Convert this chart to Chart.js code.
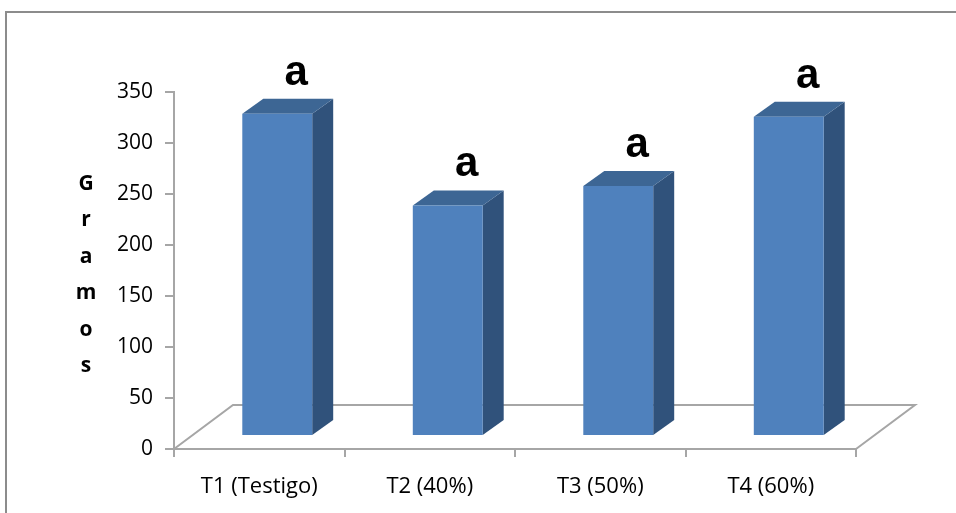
<!DOCTYPE html>
<html>
<head>
<meta charset="utf-8">
<script src="https://cdn.jsdelivr.net/npm/chart.js@4.4.1/dist/chart.umd.min.js"></script>
<style>
  html, body { margin: 0; padding: 0; background: #ffffff; }
  #wrap { width: 956px; height: 513px; }
</style>
</head>
<body>
<div id="wrap"><canvas id="c" width="956" height="513"></canvas></div>
<script>
// Treatments and mean weight (g)
const categories = ['T1 (Testigo)', 'T2 (40%)', 'T3 (50%)', 'T4 (60%)'];
const grams = [316, 226, 245, 313];
const letters = ['a', 'a', 'a', 'a'];
const axisTitle = 'Gramos';
const yMin = 0, yMax = 350, yStep = 50;

// Oblique projection used for the 3-D look
const BAR_SHIFT = { x: 18, y: -13 };   // bars sit a bit behind the front edge of the floor
const BAR_DEPTH = { x: 21, y: -15 };   // thickness of each column
const FLOOR_DEPTH = { x: 59, y: -44 }; // full depth of the floor
const FRONT = '#4F81BD', SIDE = '#30527B', TOP = '#3D6694';
const LINE = '#A6A6A6';
const TEXT_FONT = '"Open Sans", "Noto Sans", sans-serif';

const frame = {
  id: 'frame',
  beforeDraw(chart) {
    const ctx = chart.ctx;
    ctx.save();
    ctx.fillStyle = '#fff';
    ctx.fillRect(0, 0, chart.width, chart.height);
    ctx.strokeStyle = '#8C8C8C';
    ctx.lineWidth = 2;
    ctx.strokeRect(6, 12, chart.width + 20, chart.height + 20);
    ctx.restore();
  }
};

const floor3d = {
  id: 'floor3d',
  beforeDatasetsDraw(chart) {
    const { ctx, chartArea: a } = chart;
    const dx = FLOOR_DEPTH.x, dy = FLOOR_DEPTH.y;
    ctx.save();
    ctx.strokeStyle = LINE;
    ctx.lineWidth = 2;
    ctx.beginPath();
    ctx.moveTo(a.left, a.bottom);
    ctx.lineTo(a.left + dx, a.bottom + dy);
    ctx.lineTo(a.right + dx, a.bottom + dy);
    ctx.lineTo(a.right, a.bottom);
    ctx.stroke();
    ctx.restore();
  },
  beforeDatasetDraw(chart, args) {
    const ctx = chart.ctx;
    ctx.save();
    ctx.translate(BAR_SHIFT.x, BAR_SHIFT.y);
    const meta = args.meta;
    meta.data.forEach(el => {
      const p = el.getProps(['x', 'y', 'base', 'width'], true);
      const l = p.x - p.width / 2, r = p.x + p.width / 2;
      const dx = BAR_DEPTH.x, dy = BAR_DEPTH.y;
      // side face
      ctx.fillStyle = SIDE;
      ctx.beginPath();
      ctx.moveTo(r, p.y);
      ctx.lineTo(r + dx, p.y + dy);
      ctx.lineTo(r + dx, p.base + dy);
      ctx.lineTo(r, p.base);
      ctx.closePath();
      ctx.fill();
      // top face
      ctx.fillStyle = TOP;
      ctx.beginPath();
      ctx.moveTo(l, p.y);
      ctx.lineTo(l + dx, p.y + dy);
      ctx.lineTo(r + dx, p.y + dy);
      ctx.lineTo(r, p.y);
      ctx.closePath();
      ctx.fill();
    });
  },
  afterDatasetDraw(chart) {
    chart.ctx.restore();
  },
  afterDatasetsDraw(chart) {
    const ctx = chart.ctx;
    const meta = chart.getDatasetMeta(0);
    ctx.save();
    ctx.fillStyle = '#000';
    ctx.font = 'bold 42px "Liberation Sans", Arial, sans-serif';
    ctx.textAlign = 'center';
    ctx.textBaseline = 'alphabetic';
    meta.data.forEach((el, i) => {
      const p = el.getProps(['x', 'y'], true);
      ctx.fillText(letters[i], p.x + BAR_SHIFT.x + 19, p.y + BAR_SHIFT.y + BAR_DEPTH.y - 14);
    });
    // vertical axis title, one letter per line
    ctx.font = 'bold 21px ' + TEXT_FONT;
    axisTitle.split('').forEach((ch, i) => {
      ctx.fillText(ch, 86, 190 + i * 36.4);
    });
    ctx.restore();
  }
};

new Chart(document.getElementById('c'), {
  type: 'bar',
  data: {
    labels: categories,
    datasets: [{
      data: grams,
      backgroundColor: FRONT,
      borderWidth: 0,
      barPercentage: 0.41,
      categoryPercentage: 1
    }]
  },
  options: {
    responsive: false,
    animation: false,
    devicePixelRatio: 1,
    layout: { padding: { left: 0, top: 92, right: 100, bottom: 0 } },
    plugins: { legend: { display: false }, tooltip: { enabled: false } },
    scales: {
      x: {
        grid: { drawOnChartArea: false, tickLength: 8, color: LINE, lineWidth: 2, offset: true },
        border: { color: LINE, width: 2 },
        ticks: { color: '#000', font: { family: TEXT_FONT, size: 22 }, padding: 17, maxRotation: 0 },
        afterFit(s) { s.height = 64; }
      },
      y: {
        min: yMin, max: yMax,
        grid: { drawOnChartArea: false, tickLength: 9, color: LINE, lineWidth: 2 },
        border: { color: LINE, width: 2 },
        ticks: { stepSize: yStep, color: '#000', font: { family: TEXT_FONT, size: 21 }, padding: 12 },
        afterFit(s) { s.width = 174; }
      }
    }
  },
  plugins: [frame, floor3d]
});
</script>
</body>
</html>
